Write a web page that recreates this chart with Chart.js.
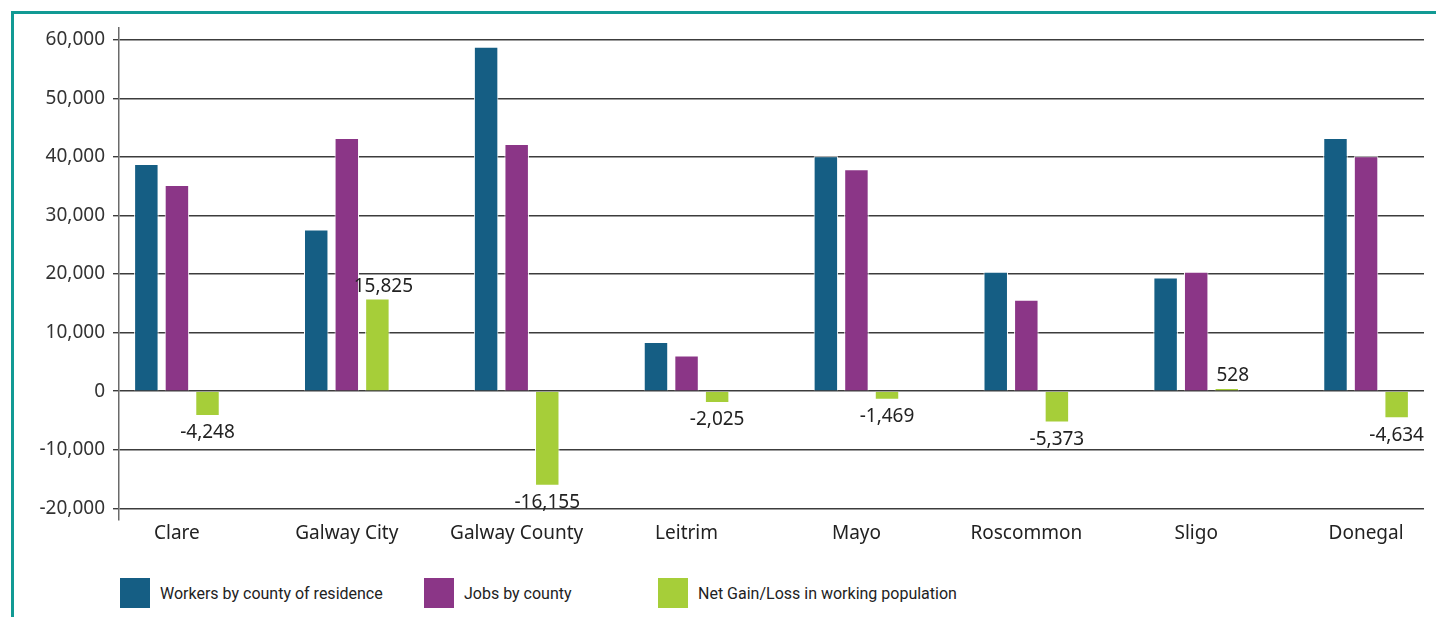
<!DOCTYPE html>
<html>
<head>
<meta charset="utf-8">
<script src="https://cdn.jsdelivr.net/npm/chart.js@4"></script>
<style>
  html, body { margin: 0; padding: 0; background: #fff; }
  body { width: 1436px; height: 617px; position: relative; overflow: hidden; font-family: 'Noto Sans', sans-serif; }
  .frame { position: absolute; left: 11px; top: 11px; right: -5px; bottom: -5px;
           border-left: 3px solid #119a94; border-top: 3px solid #119a94; }
  #wrap { position: absolute; left: 0; top: 0; width: 1436px; height: 560px; }
  .legend { position: absolute; top: 578px; left: 0; width: 1436px; height: 30px; }
  .lg-item { position: absolute; top: 0; height: 30px; display: flex; align-items: center;
             font-family: Roboto, sans-serif; font-size: 16px; color: #222; }
  .lg-box { width: 30px; height: 30px; margin-right: 10px; }
</style>
</head>
<body>
<div class="frame"></div>
<div id="wrap"><canvas id="chart"></canvas></div>
<div class="legend" id="legend"></div>

<script>
/* ── Data ───────────────────────────────────────────────────── */
const counties = ['Clare', 'Galway City', 'Galway County', 'Leitrim', 'Mayo', 'Roscommon', 'Sligo', 'Donegal'];
const workers  = [38800, 27600, 58800, 8400, 40100, 20400, 19400, 43200];
const jobs     = [35200, 43200, 42200, 6100, 37900, 15600, 20400, 40100];
const netGain  = [-4248, 15825, -16155, -2025, -1469, -5373, 528, -4634];

const seriesNames  = ['Workers by county of residence', 'Jobs by county', 'Net Gain/Loss in working population'];
const seriesColors = ['#155e84', '#8b3687', '#a6ce39'];
const legendLeft   = [120, 424, 658];

const yTicks = [-20000, -10000, 0, 10000, 20000, 30000, 40000, 50000, 60000];

/* ── Legend (HTML) ──────────────────────────────────────────── */
document.getElementById('legend').innerHTML = seriesNames.map((n, i) => `
  <div class="lg-item" style="left:${legendLeft[i]}px">
    <div class="lg-box" style="background:${seriesColors[i]}"></div>${n}
  </div>`).join('');

/* ── Data labels for the net series ─────────────────────────── */
const netLabels = {
  id: 'netLabels',
  afterDatasetsDraw(chart) {
    const meta = chart.getDatasetMeta(2);
    const ctx = chart.ctx;
    ctx.save();
    ctx.font = '19px "Noto Sans", sans-serif';
    ctx.fillStyle = '#222';
    ctx.textAlign = 'center';
    ctx.textBaseline = 'middle';
    meta.data.forEach((el, i) => {
      const v = netGain[i];
      if (v < 0) ctx.fillText(v.toLocaleString('en-US'), el.x, el.y + 17);
      else       ctx.fillText(v.toLocaleString('en-US'), el.x + 6, el.y - 12);
    });
    ctx.restore();
  }
};

/* ── Chart ──────────────────────────────────────────────────── */
const toPoints = arr => arr.map((v, i) => ({ x: i, y: v }));
const series = [workers, jobs, netGain];

new Chart(document.getElementById('chart'), {
  type: 'bar',
  data: {
    datasets: series.map((arr, i) => ({
      label: seriesNames[i],
      data: toPoints(arr),
      backgroundColor: seriesColors[i],
      borderColor: '#ffffff',
      borderWidth: 1,
      categoryPercentage: 0.54,
      barPercentage: 0.8
    }))
  },
  options: {
    responsive: true,
    maintainAspectRatio: false,
    animation: false,
    layout: { padding: { left: 14, right: 12, top: 28, bottom: 0 } },
    plugins: { legend: { display: false }, tooltip: { enabled: false } },
    scales: {
      x: {
        type: 'linear',
        offset: false,
        min: -0.341,
        max: 7.341,
        afterFit: s => { s.height = 40; },
        grid: { display: false, drawTicks: false, offset: false },
        border: { display: false },
        ticks: {
          stepSize: 1,
          includeBounds: false,
          autoSkip: false,
          maxRotation: 0,
          padding: 2,
          color: '#222',
          font: { family: 'Noto Sans', size: 19 },
          callback: v => Number.isInteger(v) ? counties[v] : ''
        }
      },
      y: {
        min: -22000,
        max: 62000,
        afterFit: s => { s.width = 105; },
        afterBuildTicks: s => { s.ticks = yTicks.map(v => ({ value: v })); },
        grid: { color: '#3c3c3c', lineWidth: 1.4, tickLength: 6, drawTicks: true },
        border: { display: true, color: '#6a6a6a', width: 1.5 },
        ticks: {
          padding: 8,
          color: '#333',
          font: { family: 'Noto Sans', size: 19 },
          callback: v => v.toLocaleString('en-US')
        }
      }
    }
  },
  plugins: [netLabels]
});
</script>
</body>
</html>
